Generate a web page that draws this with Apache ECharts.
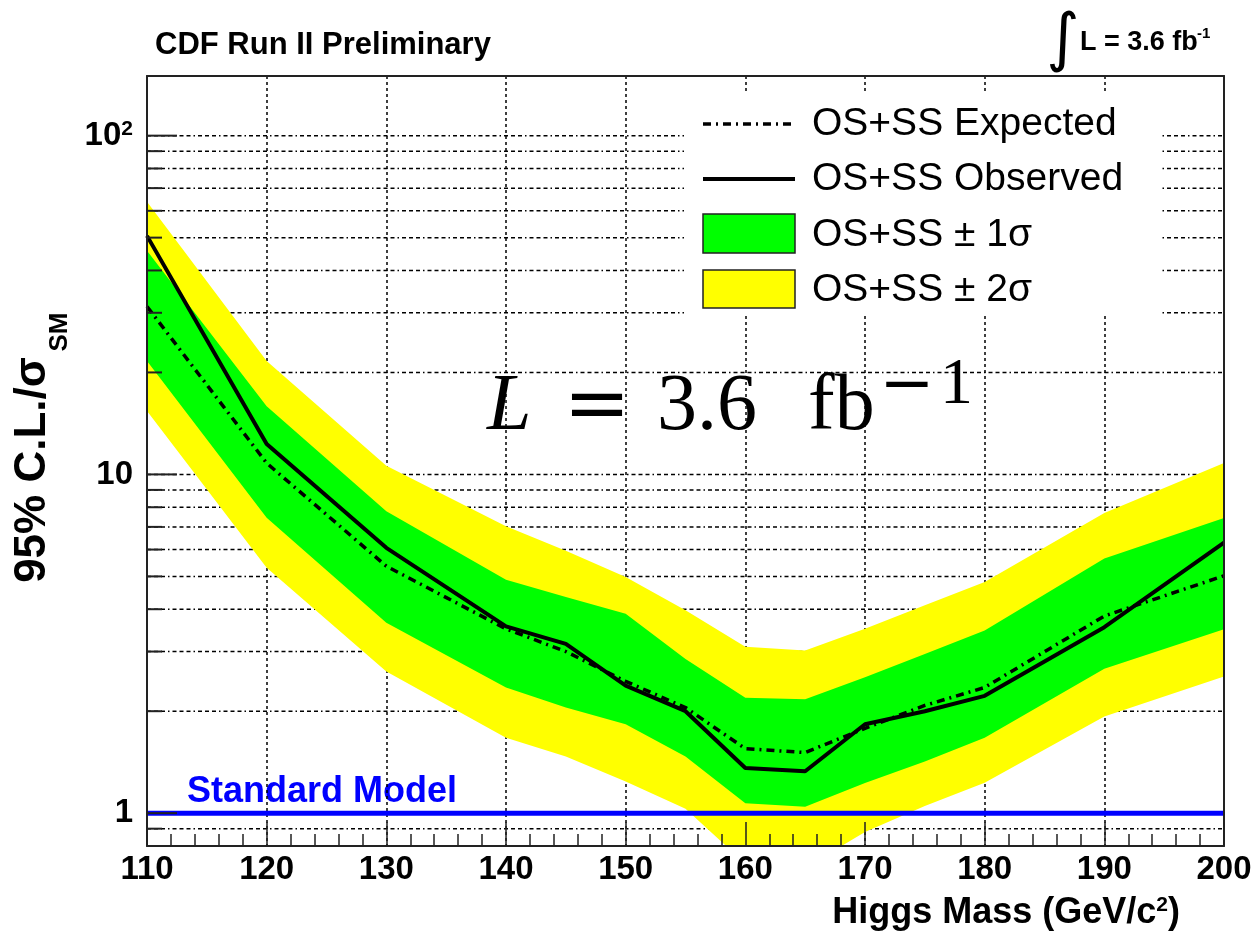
<!DOCTYPE html>
<html>
<head>
<meta charset="utf-8">
<script src="https://cdn.jsdelivr.net/npm/echarts@6/dist/echarts.min.js"></script>
<style>
  html, body { margin: 0; padding: 0; background: #ffffff; }
  #chart { width: 1257px; height: 937px; }
</style>
</head>
<body>
<div id="chart"></div>
<script>
// Higgs mass points (GeV/c^2)
const massPoints = [110, 120, 130, 140, 145, 150, 155, 160, 165, 170, 175, 180, 190, 200];
// 95% C.L. limit / sigma_SM, observed and expected (median)
const observedLimit = [50.6, 12.3, 6.07, 3.56, 3.16, 2.38, 2.00, 1.36, 1.33, 1.83, 2.00, 2.22, 3.54, 6.29];
const expectedLimit = [31.3, 10.8, 5.36, 3.50, 3.00, 2.45, 2.05, 1.55, 1.51, 1.78, 2.08, 2.35, 3.82, 5.02];
// expected limit bands
const plusTwoSigma  = [63.8, 21.6, 10.6, 7.03, 5.95, 4.98, 3.97, 3.10, 3.02, 3.50, 4.11, 4.81, 7.69, 10.8];
const plusOneSigma  = [45.7, 15.9, 7.79, 4.89, 4.35, 3.88, 2.85, 2.19, 2.17, 2.52, 2.95, 3.46, 5.65, 7.43];
const minusOneSigma = [21.6, 7.45, 3.65, 2.35, 2.05, 1.83, 1.47, 1.07, 1.045, 1.227, 1.42, 1.67, 2.67, 3.49];
const minusTwoSigma = [15.4, 5.30, 2.62, 1.67, 1.47, 1.24, 1.03, 0.71, 0.69, 0.88, 1.05, 1.23, 1.93, 2.53];
// Standard Model reference level
const smMass = [110, 200];
const smRatio = [1, 1];
// axis ranges and grid/tick values
const xRange = [110, 200];
const yRange = [0.8, 150];
const yGridValues = [0.9, 1, 2, 3, 4, 5, 6, 7, 8, 9, 10, 20, 30, 40, 50, 60, 70, 80, 90, 100];
const yMajorTicks = [1, 10, 100];
// legend entries
const legendLabels = ['OS+SS Expected', 'OS+SS Observed', 'OS+SS \u00b1 1\u03c3', 'OS+SS \u00b1 2\u03c3'];

const FRAME = '#222222';
const SANS = 'Liberation Sans, Arial, Helvetica, sans-serif';
const SERIF = 'Liberation Serif, Times New Roman, serif';
const DSERIF = 'DejaVu Serif, serif';
const EXP_DASH = [8, 5, 2, 5];

const isPow10 = v => Math.abs(Math.log10(v) - Math.round(Math.log10(v))) < 1e-6;

function bandRenderer(color) {
  return function (params, api) {
    if (params.dataIndexInside !== 0) return null;
    const n = params.dataInsideLength;
    const upper = [], lower = [];
    for (let i = 0; i < n; i++) {
      const m = api.value(0, i);
      lower.push(api.coord([m, api.value(1, i)]));
      upper.push(api.coord([m, api.value(2, i)]));
    }
    return {
      type: 'polygon',
      shape: { points: upper.concat(lower.reverse()) },
      style: { fill: color, stroke: null }
    };
  };
}

const legendTextStyle = { fontSize: 39, fontFamily: SANS, fill: '#000', align: 'left', verticalAlign: 'middle' };
const legendRows = [124, 179, 235, 290];

const chart = echarts.init(document.getElementById('chart'), null, { renderer: 'canvas' });

const option = {
  animation: false,
  backgroundColor: '#ffffff',
  grid: { left: 147, right: 33, top: 76, bottom: 91, containLabel: false },
  xAxis: [
    { // labels and vertical grid
      type: 'value', min: xRange[0], max: xRange[1], interval: 10, position: 'bottom', z: 0,
      axisLine: { show: false, onZero: false }, axisTick: { show: false },
      axisLabel: { fontSize: 33, fontWeight: 'bold', fontFamily: SANS, color: '#000', margin: 7 },
      splitLine: { show: true, lineStyle: { color: '#000', width: 1.5, type: [3, 3] } }
    },
    { // frame line and ticks drawn over the bands
      type: 'value', min: xRange[0], max: xRange[1], interval: 10, position: 'bottom', z: 6,
      axisLine: { show: true, onZero: false, lineStyle: { color: FRAME, width: 2 } },
      axisTick: { show: true, inside: true, length: 24, lineStyle: { color: FRAME, width: 1.5 } },
      minorTick: { show: true, splitNumber: 5, length: 12, lineStyle: { color: FRAME, width: 1.5 } },
      axisLabel: { show: false }, splitLine: { show: false }
    },
    { // top frame
      type: 'value', min: xRange[0], max: xRange[1], position: 'top', z: 6,
      axisLine: { show: true, onZero: false, lineStyle: { color: FRAME, width: 2 } },
      axisTick: { show: false }, axisLabel: { show: false }, splitLine: { show: false }
    }
  ],
  yAxis: [
    {
      type: 'log', min: yRange[0], max: yRange[1], position: 'left', z: 6,
      axisLine: { show: true, onZero: false, lineStyle: { color: FRAME, width: 2 } },
      axisTick: { show: false }, splitLine: { show: false },
      axisLabel: {
        margin: 14,
        formatter: v => {
          if (!isPow10(v)) return '';
          const p = Math.round(Math.log10(v));
          if (p >= 2) return '{b|10}{s|' + p + '}';
          return '{b|' + Math.pow(10, p) + '}';
        },
        rich: {
          b: { fontSize: 33, fontWeight: 'bold', fontFamily: SANS, color: '#000' },
          s: { fontSize: 21, fontWeight: 'bold', fontFamily: SANS, color: '#000', verticalAlign: 'top' }
        }
      }
    },
    { // right frame
      type: 'log', min: yRange[0], max: yRange[1], position: 'right', z: 6,
      axisLine: { show: true, onZero: false, lineStyle: { color: FRAME, width: 2 } },
      axisTick: { show: false }, axisLabel: { show: false }, splitLine: { show: false }
    }
  ],
  series: [
    { // horizontal grid lines at every log subdivision
      type: 'custom', name: 'yGrid', coordinateSystem: 'cartesian2d', xAxisIndex: 0, yAxisIndex: 0,
      z: 0, silent: true,
      data: yGridValues.map(v => [xRange[0], v]),
      encode: { x: 0, y: 1 },
      renderItem: (params, api) => {
        const cs = params.coordSys;
        const y = api.coord([api.value(0), api.value(1)])[1];
        return {
          type: 'line',
          shape: { x1: cs.x, y1: y, x2: cs.x + cs.width, y2: y },
          style: { stroke: '#000', lineWidth: 1.5, lineDash: [4, 3, 4, 3, 4, 3, 1.5, 3] }
        };
      }
    },
    {
      type: 'custom', name: legendLabels[3], coordinateSystem: 'cartesian2d', xAxisIndex: 0, yAxisIndex: 0,
      z: 1, clip: true, silent: true,
      data: massPoints.map((m, i) => [m, minusTwoSigma[i], plusTwoSigma[i]]),
      encode: { x: 0, y: [1, 2] },
      renderItem: bandRenderer('#ffff00')
    },
    {
      type: 'custom', name: legendLabels[2], coordinateSystem: 'cartesian2d', xAxisIndex: 0, yAxisIndex: 0,
      z: 2, clip: true, silent: true,
      data: massPoints.map((m, i) => [m, minusOneSigma[i], plusOneSigma[i]]),
      encode: { x: 0, y: [1, 2] },
      renderItem: bandRenderer('#00ff00')
    },
    {
      type: 'line', name: legendLabels[0], xAxisIndex: 0, yAxisIndex: 0, z: 3,
      data: massPoints.map((m, i) => [m, expectedLimit[i]]),
      symbol: 'none', showSymbol: false, clip: true,
      lineStyle: { color: '#000', width: 3.5, type: EXP_DASH, cap: 'butt' }
    },
    {
      type: 'line', name: legendLabels[1], xAxisIndex: 0, yAxisIndex: 0, z: 4,
      data: massPoints.map((m, i) => [m, observedLimit[i]]),
      symbol: 'none', showSymbol: false, clip: true,
      lineStyle: { color: '#000', width: 4, type: 'solid', cap: 'butt' }
    },
    {
      type: 'line', name: 'Standard Model', xAxisIndex: 0, yAxisIndex: 0, z: 5,
      data: smMass.map((m, i) => [m, smRatio[i]]),
      symbol: 'none', showSymbol: false,
      lineStyle: { color: '#0000ff', width: 5, cap: 'butt' }
    },
    { // y-axis tick marks drawn over the bands
      type: 'custom', name: 'yTicks', coordinateSystem: 'cartesian2d', xAxisIndex: 0, yAxisIndex: 0,
      z: 6, silent: true,
      data: yGridValues.map(v => [xRange[0], v]),
      encode: { x: 0, y: 1 },
      renderItem: (params, api) => {
        const cs = params.coordSys;
        const v = api.value(1);
        const y = api.coord([api.value(0), v])[1];
        const len = yMajorTicks.indexOf(v) >= 0 ? 30 : 15;
        return {
          type: 'line',
          shape: { x1: cs.x, y1: y, x2: cs.x + len, y2: y },
          style: { stroke: FRAME, lineWidth: 2 }
        };
      }
    }
  ],
  graphic: [
    // header
    { type: 'text', x: 155, y: 45, style: { text: 'CDF Run II Preliminary', fontSize: 31, fontWeight: 'bold', fontFamily: SANS, fill: '#000', align: 'left', verticalAlign: 'middle' } },
    { type: 'text', x: 1063, y: 42, style: { text: '\u222b', fontSize: 64, fontFamily: 'DejaVu Sans, sans-serif', fill: '#000', align: 'center', verticalAlign: 'middle' } },
    { type: 'text', x: 1080, y: 43, style: { text: 'L = 3.6 fb', fontSize: 27, fontWeight: 'bold', fontFamily: SANS, fill: '#000', align: 'left', verticalAlign: 'middle' } },
    { type: 'text', x: 1197, y: 34, style: { text: '-1', fontSize: 15, fontWeight: 'bold', fontFamily: SANS, fill: '#000', align: 'left', verticalAlign: 'middle' } },

    // axis titles
    { type: 'text', x: 1180, y: 913, style: {
        text: '{t|Higgs Mass (GeV/c}{u|2}{t|)}', align: 'right', verticalAlign: 'middle',
        rich: {
          t: { fontSize: 36, fontWeight: 'bold', fontFamily: SANS, fill: '#000' },
          u: { fontSize: 21, fontWeight: 'bold', fontFamily: SANS, fill: '#000', verticalAlign: 'top' }
        } } },
    { type: 'text', x: 33, y: 470, rotation: Math.PI / 2, style: { text: '95% C.L./\u03c3', fontSize: 44, fontWeight: 'bold', fontFamily: SANS, fill: '#000', align: 'center', verticalAlign: 'middle' } },
    { type: 'text', x: 60, y: 332, rotation: Math.PI / 2, style: { text: 'SM', fontSize: 26, fontWeight: 'bold', fontFamily: SANS, fill: '#000', align: 'center', verticalAlign: 'middle' } },

    // Standard Model label
    { type: 'text', x: 187, y: 792, style: { text: 'Standard Model', fontSize: 36, fontWeight: 'bold', fontFamily: SANS, fill: '#0000ff', align: 'left', verticalAlign: 'middle' } },

    // luminosity formula
    { type: 'text', x: 487, y: 408, style: { text: 'L', fontSize: 80, fontStyle: 'italic', fontFamily: SERIF, fill: '#000', align: 'left', verticalAlign: 'middle' } },
    { type: 'text', x: 597, y: 409, style: { text: '=', fontSize: 80, fontFamily: DSERIF, fill: '#000', align: 'center', verticalAlign: 'middle' } },
    { type: 'text', x: 657, y: 408, style: { text: '3.6', fontSize: 80, fontFamily: SERIF, fill: '#000', align: 'left', verticalAlign: 'middle' } },
    { type: 'text', x: 808, y: 408, style: { text: 'fb', fontSize: 80, fontFamily: SERIF, fill: '#000', align: 'left', verticalAlign: 'middle' } },
    { type: 'text', x: 907, y: 388, style: { text: '\u2212', fontSize: 66, fontFamily: DSERIF, fill: '#000', align: 'center', verticalAlign: 'middle' } },
    { type: 'text', x: 940, y: 386, style: { text: '1', fontSize: 66, fontFamily: SERIF, fill: '#000', align: 'left', verticalAlign: 'middle' } },

    // legend: white panel, then samples and labels
    { type: 'rect', z: 20, shape: { x: 684, y: 93, width: 476, height: 223 }, style: { fill: '#ffffff', stroke: null } },
    { type: 'line', z: 21, shape: { x1: 703, y1: legendRows[0], x2: 795, y2: legendRows[0] }, style: { stroke: '#000', lineWidth: 3.5, lineDash: EXP_DASH } },
    { type: 'line', z: 21, shape: { x1: 703, y1: legendRows[1], x2: 795, y2: legendRows[1] }, style: { stroke: '#000', lineWidth: 4 } },
    { type: 'rect', z: 21, shape: { x: 703, y: 214, width: 92, height: 39 }, style: { fill: '#00ff00', stroke: '#222', lineWidth: 1.5 } },
    { type: 'rect', z: 21, shape: { x: 703, y: 270, width: 92, height: 38 }, style: { fill: '#ffff00', stroke: '#222', lineWidth: 1.5 } },
    { type: 'text', z: 21, x: 812, y: legendRows[0], style: Object.assign({ text: legendLabels[0] }, legendTextStyle) },
    { type: 'text', z: 21, x: 812, y: legendRows[1], style: Object.assign({ text: legendLabels[1] }, legendTextStyle) },
    { type: 'text', z: 21, x: 812, y: legendRows[2], style: Object.assign({ text: legendLabels[2] }, legendTextStyle) },
    { type: 'text', z: 21, x: 812, y: legendRows[3], style: Object.assign({ text: legendLabels[3] }, legendTextStyle) }
  ]
};

chart.setOption(option);
</script>
</body>
</html>
